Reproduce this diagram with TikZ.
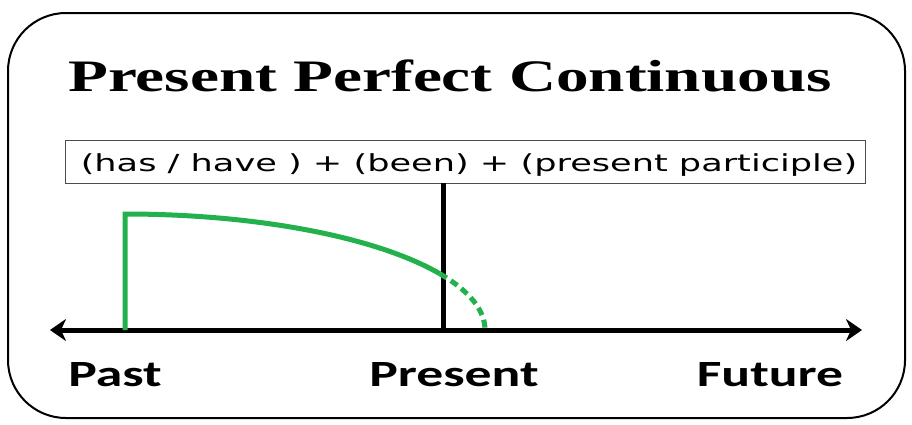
\documentclass[tikz,border=0pt]{standalone}
\usepackage{fontspec}
\usetikzlibrary{arrows.meta}
\setmainfont{Liberation Serif}
\newfontfamily\calib{Carlito}
\newfontfamily\dejav{DejaVu Sans}
\begin{document}
\begin{tikzpicture}[x=1pt,y=-1pt,
  frame/.style={draw=black,line width=2pt,rounded corners=58pt},
  formbox/.style={draw=black!70,line width=1pt,fill=white},
  axis/.style={line width=5pt,black,-{Stealth[length=16pt,width=22pt,inset=5pt]}},
  grn/.style={line width=5pt,draw={rgb,255:red,34;green,177;blue,76}},
  lbl/.style={font=\calib\bfseries\fontsize{37}{40}\selectfont,inner sep=0pt}]
\useasboundingbox (0,0) rectangle (912,424);
\draw[frame] (8,13) rectangle (905,418);
\node[font=\bfseries\fontsize{45}{48}\selectfont,inner sep=0pt,xscale=1.45,anchor=base] (title) at (450,91) {Present Perfect Continuous};
\node[formbox,minimum width=800pt,minimum height=43pt,inner sep=0pt] (form) at (465,162) {};
\node[font=\dejav\fontsize{23.5}{26}\selectfont,inner sep=0pt,xscale=1.495,anchor=base] (formt) at (469,171) {(has / have ) + (been) + (present participle)};
\coordinate (ltip) at (50,330);
\coordinate (rtip) at (862,330);
\coordinate (ptop) at (443,183);
\coordinate (pbot) at (443,330);
\draw[axis] (pbot) -- (rtip);
\draw[axis] (pbot) -- (ltip);
\draw[line width=5pt] (ptop) -- (pbot);
\coordinate (start) at (125,330);
\coordinate (corner) at (125,214);
\draw[grn] (start) -- (corner) arc[start angle=90,end angle=29,x radius=360pt,y radius=116pt] coordinate (mid);
\draw[grn,dash pattern=on 8pt off 5pt] (mid) arc[start angle=29,end angle=0,x radius=360pt,y radius=116pt];
\node[lbl,xscale=1.45,anchor=base] (past) at (115,386) {Past};
\node[lbl,xscale=1.45,anchor=base] (present) at (454,386) {Present};
\node[lbl,xscale=1.45,anchor=base] (future) at (770,386) {Future};
\end{tikzpicture}
\end{document}
